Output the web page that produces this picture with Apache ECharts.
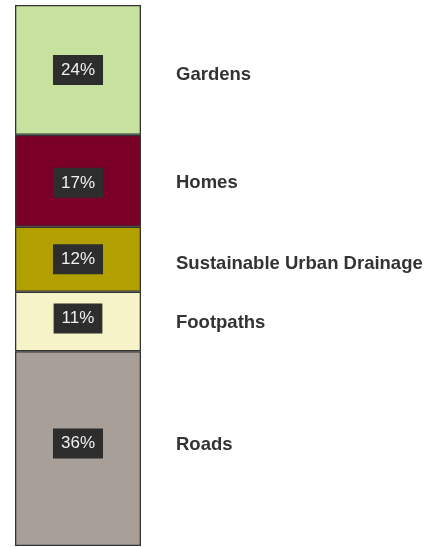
<!DOCTYPE html>
<html><head><meta charset="utf-8">
<script src="https://cdn.jsdelivr.net/npm/echarts@6/dist/echarts.min.js"></script>
<style>html,body{margin:0;padding:0;background:#fff}#c{width:428px;height:547px}</style>
</head><body><div id="c"></div>
<script>
// bottom to top
const names = ['Roads', 'Footpaths', 'Sustainable Urban Drainage', 'Homes', 'Gardens'];
const values = [36, 11, 12, 17, 24];
const colors = ['#a89f98', '#f7f3c9', '#b2a000', '#7b0027', '#c6e29e'];
// small vertical nudges of the labels (styling only)
const boxNudge = [-5, -3, 0, 2, 0];
const nameNudge = [-4, 1, 5, 2, 5];

const chart = echarts.init(document.getElementById('c'));
const series = [];
names.forEach((n, i) => {
  series.push({
    type: 'bar', stack: 'a', name: n, barWidth: 126, barGap: '-100%',
    data: [values[i]],
    itemStyle: { color: colors[i], borderColor: '#333', borderWidth: 1.3 },
    label: {
      show: true, position: 'inside', formatter: values[i] + '%', offset: [0, boxNudge[i]],
      color: '#f0f0f0', fontSize: 17, fontFamily: 'Liberation Sans, Arial, sans-serif',
      backgroundColor: '#2d2d2d', padding: [7, 8, 6, 8]
    },
    silent: true
  });
});
names.forEach((n, i) => {
  series.push({
    type: 'bar', stack: 'b', name: n + '_lbl', barWidth: 126, barGap: '-100%',
    data: [values[i]],
    itemStyle: { color: 'rgba(0,0,0,0)' },
    label: {
      show: true, position: 'right', distance: 35, formatter: n, offset: [0, nameNudge[i]],
      color: '#333', fontSize: 18.5, fontWeight: 'bold', fontFamily: 'Liberation Sans, Arial, sans-serif'
    },
    silent: true
  });
});
chart.setOption({
  animation: false,
  grid: { left: 15, right: 287, top: 5, bottom: 1, containLabel: false },
  xAxis: { type: 'category', data: ['Share'], show: false },
  yAxis: { type: 'value', min: 0, max: 100, show: false },
  series: series
});
</script></body></html>
